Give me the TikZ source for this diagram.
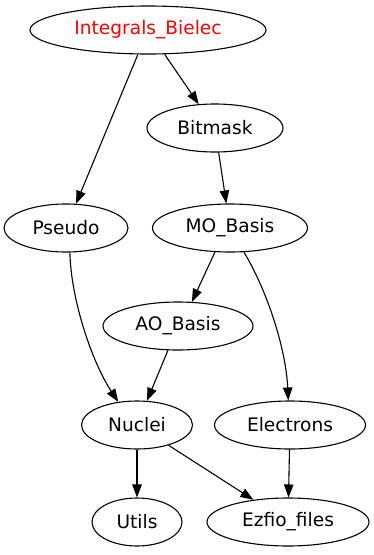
\documentclass[tikz,border=0pt]{standalone}
\usepackage{fontspec}
\setmainfont{DejaVu Sans}
\usetikzlibrary{shapes.geometric,arrows.meta}
\begin{document}
\begin{tikzpicture}[x=1pt,y=-1pt,
  module/.style={draw=black, line width=1.1pt, ellipse, inner sep=0pt,
    minimum height=48pt, font=\fontsize{18.6}{22}\selectfont},
  dep/.style={draw=black, line width=1.1pt, -{Triangle[length=13pt,width=9.5pt]}}]
\useasboundingbox (0,0) rectangle (373,555);

% modules, one rank per row
\node[module, minimum width=236pt, text=red] (ib) at (148,30)  {Integrals\_Bielec};
\node[module, minimum width=136pt] (bm) at (215,128) {Bitmask};
\node[module, minimum width=124pt] (ps) at (66,228)  {Pseudo};
\node[module, minimum width=155pt] (mo) at (230,228) {MO\_Basis};
\node[module, minimum width=150pt] (ao) at (178,326) {AO\_Basis};
\node[module, minimum width=111pt] (nu) at (137,425) {Nuclei};
\node[module, minimum width=151pt] (el) at (290,425) {Electrons};
\node[module, minimum width=90pt]  (ut) at (137,522) {Utils};
\node[module, minimum width=162pt] (ez) at (288,522) {Ezfio\_files};

% dependencies
\draw[dep] (ib) -- (ps);
\draw[dep] (ib) -- (bm);
\draw[dep] (bm) -- (mo);
\draw[dep] (ps.279) .. controls (71,300) and (92,362) .. (nu.129.6);
\draw[dep] (mo.238) -- (ao.60);
\draw[dep] (mo.300) .. controls (268,292) and (286,350) .. (el.94.6);
\draw[dep] (ao) -- (nu);
\draw[dep] (nu) -- (ut);
\draw[dep] (nu) -- (ez);
\draw[dep] (el) -- (ez);
\end{tikzpicture}
\end{document}
